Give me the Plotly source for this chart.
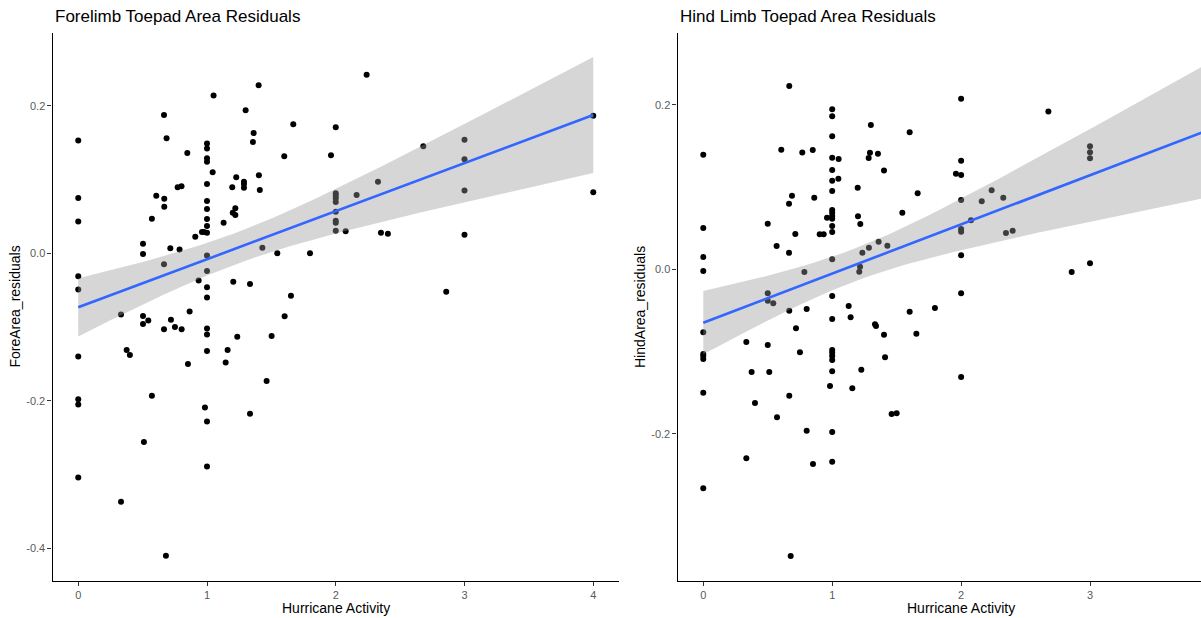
import numpy as np
import plotly.graph_objects as go

# Forelimb toepad area residuals vs hurricane activity
fore_activity = [
    0, 0, 0, 0, 0, 0, 0, 0, 0,
    0.332, 0.332, 0.376, 0.401,
    0.503, 0.503, 0.503, 0.503, 0.544, 0.51,
    0.572, 0.572, 0.606,
    0.666, 0.686, 0.668, 0.668, 0.666, 0.666, 0.681,
    0.715, 0.72, 0.751, 0.787, 0.803, 0.772, 0.802,
    0.847, 0.865, 0.852,
    0.909, 0.935, 0.961, 0.976, 0.984,
    1, 1, 1, 1, 1, 1, 1, 1, 1, 1, 1, 1, 1, 1, 1, 1, 1, 1, 1,
    1.044, 1.051, 1.129, 1.145, 1.16, 1.196, 1.2, 1.22, 1.22, 1.204, 1.227, 1.235,
    1.287, 1.287, 1.287, 1.30, 1.334, 1.334, 1.357, 1.362,
    1.401, 1.403, 1.41, 1.43, 1.463, 1.502, 1.546, 1.60, 1.603, 1.652, 1.67, 1.80,
    2, 2, 2, 2, 2, 2, 2, 2, 2,
    1.963, 2.077, 2.162, 2.24, 2.328, 2.351, 2.405, 2.68, 2.858,
    3, 3, 3, 3,
    4, 4,
]
fore_resid = [
    0.153, 0.075, 0.043, -0.031, -0.049, -0.140, -0.198, -0.205, -0.304,
    -0.083, -0.337, -0.131, -0.138,
    0.013, -0.001, -0.085, -0.096, -0.091, -0.256,
    0.047, -0.193, 0.078,
    0.1875, 0.156, 0.074, 0.063, -0.015, -0.103, -0.410,
    0.007, -0.090, -0.100, 0.005, -0.103, 0.0895, 0.091,
    0.136, -0.079, -0.150,
    0.0225, -0.037, 0.029, 0.029, -0.209,
    0.149, 0.142, 0.129, 0.124, 0.094, 0.071, 0.060, 0.0465, 0.037, 0.028,
    -0.003, -0.024, -0.046, -0.060, -0.102, -0.110, -0.1325, -0.228, -0.289,
    0.110, 0.214, 0.0415, -0.148, -0.131, 0.0895, 0.055, 0.061, 0.052, -0.0385, 0.103, -0.113,
    0.097, 0.094, 0.089, 0.194, -0.0416, -0.2175, 0.151, 0.163,
    0.228, 0.1057, 0.086, 0.0076, -0.173, -0.112, 0.0, 0.1315, -0.0855, -0.0575, 0.175, 0.0,
    0.171, 0.0814, 0.078, 0.0746, 0.0696, 0.0564, 0.0442, 0.0415, 0.0306,
    0.133, 0.030, 0.079, 0.242, 0.097, 0.028, 0.0266, 0.145, -0.052,
    0.154, 0.1275, 0.085, 0.0253,
    0.1866, 0.0827,
]

# Hind limb toepad area residuals vs hurricane activity
hind_activity = [
    0, 0, 0, 0, 0, 0, 0, 0, 0, 0,
    0.334, 0.334, 0.375, 0.401,
    0.5, 0.5, 0.5, 0.543, 0.5, 0.512,
    0.569, 0.572, 0.605,
    0.667, 0.688, 0.665, 0.665, 0.667, 0.667, 0.678,
    0.714, 0.719, 0.75, 0.768, 0.784, 0.802, 0.802,
    0.849, 0.851, 0.861, 0.903, 0.934, 0.96, 0.983,
    1, 1, 1, 1, 1, 1, 1, 1, 1, 1, 1, 1, 1, 1, 1, 1, 1, 1, 1, 1, 1, 1, 1,
    1.048, 1.05, 1.128, 1.143, 1.156, 1.198, 1.20, 1.218, 1.234, 1.216, 1.21, 1.226,
    1.283, 1.285, 1.293, 1.30, 1.332, 1.34, 1.355, 1.36, 1.402, 1.402, 1.41, 1.428, 1.461, 1.50,
    1.544, 1.601, 1.601, 1.653, 1.663, 1.797,
    2, 2, 2, 2, 2, 2, 2, 2, 2,
    1.96, 2.077, 2.16, 2.237, 2.327, 2.348, 2.40, 2.677, 2.858,
    3, 3, 3, 3,
]
hind_resid = [
    0.1393, 0.0502, 0.015, -0.002, -0.0766, -0.103, -0.1054, -0.109, -0.150, -0.2663,
    -0.0884, -0.2298, -0.125, -0.1626,
    0.0555, -0.0292, -0.0382, -0.0413, -0.092, -0.125,
    0.0283, -0.18, 0.1454,
    0.2229, 0.0895, 0.0798, 0.020, -0.0503, -0.1537, -0.3486,
    0.043, -0.0718, -0.101, 0.142, -0.0033, -0.0483, -0.1962,
    0.145, -0.2367, 0.087, 0.0426, 0.0426, 0.0627, -0.142,
    0.1945, 0.186, 0.1617, 0.1357, 0.1207, 0.1077, 0.0952, 0.0721, 0.0688, 0.0648,
    0.0615, 0.0526, 0.0453, 0.0122, -0.0325, -0.0604, -0.098, -0.1014, -0.1054,
    -0.1103, -0.124, -0.1978, -0.234,
    0.110, 0.134, -0.0446, -0.0584, -0.1447, 0.0992, 0.0644, 0.055, 0.0202, 0.0032, -0.003, -0.122,
    0.1353, 0.0263, 0.1418, 0.1754, -0.0669, -0.069, 0.1406, 0.0336, 0.120, -0.0795, -0.107, 0.0287, -0.176, -0.175,
    0.0688, 0.1665, -0.0515, -0.0783, 0.0924, -0.047,
    0.2074, 0.132, 0.1147, 0.0843, 0.049, 0.0457, 0.017, -0.0292, -0.131,
    0.1162, 0.0596, 0.0827, 0.096, 0.087, 0.0441, 0.0469, 0.192, -0.0033,
    0.1495, 0.1422, 0.135, 0.0073,
]

x_ticks = [0, 1, 2, 3, 4]
y_ticks = [-0.4, -0.2, 0.0, 0.2]

FONT = "Liberation Sans, Arial, sans-serif"
W, H = 1201, 618


def t_quantile(p, dof):
    # Cornish-Fisher style expansion of Student t quantile around the normal one
    z = 1.959963984540054 if abs(p - 0.975) < 1e-9 else 1.96
    g1 = (z ** 3 + z) / 4
    g2 = (5 * z ** 5 + 16 * z ** 3 + 3 * z) / 96
    g3 = (3 * z ** 7 + 19 * z ** 5 + 17 * z ** 3 - 15 * z) / 384
    return z + g1 / dof + g2 / dof ** 2 + g3 / dof ** 3


def lm_band(x, y, grid):
    x = np.asarray(x, float)
    y = np.asarray(y, float)
    n = len(x)
    slope, intercept = np.polyfit(x, y, 1)
    resid = y - (intercept + slope * x)
    s = np.sqrt(np.sum(resid ** 2) / (n - 2))
    sxx = np.sum((x - x.mean()) ** 2)
    fit = intercept + slope * grid
    half = t_quantile(0.975, n - 2) * s * np.sqrt(1 / n + (grid - x.mean()) ** 2 / sxx)
    return fit, fit - half, fit + half


fig = go.Figure()

panels = [
    ("x", "y", fore_activity, fore_resid),
    ("x2", "y2", hind_activity, hind_resid),
]
for xa, ya, xs, ys in panels:
    grid = np.linspace(0, 4, 81)
    fit, lo, hi = lm_band(xs, ys, grid)
    fig.add_trace(go.Scatter(
        x=xs, y=ys, mode="markers", xaxis=xa, yaxis=ya,
        marker=dict(color="black", size=6, line=dict(width=0)),
        showlegend=False, hoverinfo="skip",
    ))
    fig.add_trace(go.Scatter(
        x=np.concatenate([grid, grid[::-1]]),
        y=np.concatenate([hi, lo[::-1]]),
        mode="lines", fill="toself", xaxis=xa, yaxis=ya,
        fillcolor="rgba(153,153,153,0.4)", line=dict(width=0),
        showlegend=False, hoverinfo="skip",
    ))
    fig.add_trace(go.Scatter(
        x=grid, y=fit, mode="lines", xaxis=xa, yaxis=ya,
        line=dict(color="#3366FF", width=2.6),
        showlegend=False, hoverinfo="skip",
    ))

y_dom = [1 - 581 / H, 1 - 33 / H]
axis_common = dict(
    showgrid=False, zeroline=False, showline=True, linecolor="black", linewidth=1.1,
    ticks="outside", ticklen=4, tickwidth=1, tickcolor="#333333",
    tickfont=dict(family=FONT, size=11, color="#5a5a5a"),
)

fig.update_layout(
    width=W, height=H, autosize=False,
    margin=dict(l=0, r=0, t=0, b=0),
    paper_bgcolor="white", plot_bgcolor="white",
    xaxis=dict(domain=[52.5 / W, 619 / W], range=[-0.2, 4.2], anchor="y",
               tickvals=x_ticks, ticktext=[str(v) for v in x_ticks], **axis_common),
    yaxis=dict(domain=y_dom, range=[-0.4443, 0.2987], anchor="x",
               tickvals=y_ticks, ticktext=["-0.4", "-0.2", "0.0", "0.2"], **axis_common),
    xaxis2=dict(domain=[677.5 / W, 1.0], range=[-0.2, 3.861], anchor="y2",
                tickvals=x_ticks, ticktext=[str(v) for v in x_ticks], **axis_common),
    yaxis2=dict(domain=y_dom, range=[-0.379, 0.2873], anchor="x2",
                tickvals=y_ticks, ticktext=["-0.4", "-0.2", "0.0", "0.2"], **axis_common),
)

annotations = [
    dict(text="Forelimb Toepad Area Residuals", x=53 / W, y=1 - 16.6 / H,
         xanchor="left", yanchor="middle", font=dict(size=17, color="black")),
    dict(text="Hind Limb Toepad Area Residuals", x=678 / W, y=1 - 16.6 / H,
         xanchor="left", yanchor="middle", font=dict(size=17, color="black")),
    dict(text="Hurricane Activity", x=336 / W, y=1 - 608.4 / H,
         xanchor="center", yanchor="middle", font=dict(size=14, color="black")),
    dict(text="Hurricane Activity", x=961 / W, y=1 - 608.4 / H,
         xanchor="center", yanchor="middle", font=dict(size=14, color="black")),
    dict(text="ForeArea_residuals", x=14.5 / W, y=1 - 307 / H, textangle=-90,
         xanchor="center", yanchor="middle", font=dict(size=14, color="black")),
    dict(text="HindArea_residuals", x=640 / W, y=1 - 307 / H, textangle=-90,
         xanchor="center", yanchor="middle", font=dict(size=14, color="black")),
]
for a in annotations:
    a.update(xref="paper", yref="paper", showarrow=False)
    a["font"]["family"] = FONT
fig.update_layout(annotations=annotations)

fig.write_html("out.html")
